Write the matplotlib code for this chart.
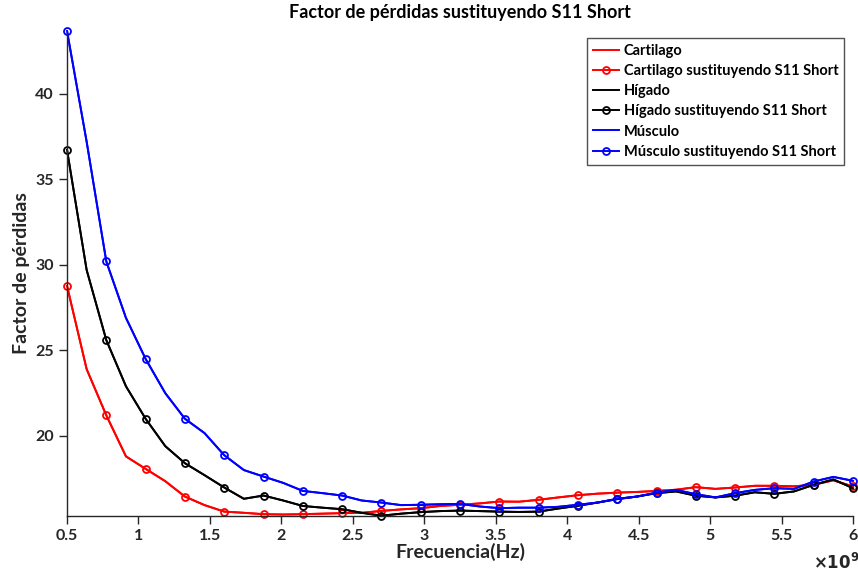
import matplotlib
matplotlib.use("Agg")
import matplotlib.pyplot as plt
from matplotlib.ticker import FuncFormatter

plt.rcParams["font.family"] = ["Lato", "DejaVu Sans"]
plt.rcParams["font.weight"] = "bold"

# frequency sweep (GHz), markers sit on every second point
freq_ghz = [0.5, 0.6375, 0.775, 0.9125, 1.05, 1.1875, 1.325, 1.4625, 1.6, 1.7375,
            1.875, 2.0125, 2.15, 2.2875, 2.425, 2.5625, 2.7, 2.8375, 2.975, 3.1125,
            3.25, 3.3875, 3.525, 3.6625, 3.8, 3.9375, 4.075, 4.2125, 4.35, 4.4875,
            4.625, 4.7625, 4.9, 5.0375, 5.175, 5.3125, 5.45, 5.5875, 5.725, 5.8625, 6.0]

cartilago = [28.77, 23.9, 21.2, 18.8, 18.07, 17.35, 16.45, 15.95, 15.57, 15.5,
             15.42, 15.4, 15.42, 15.45, 15.48, 15.5, 15.61, 15.7, 15.77, 15.9,
             15.97, 16.05, 16.16, 16.15, 16.26, 16.4, 16.53, 16.62, 16.68, 16.72,
             16.78, 16.85, 17.0, 16.9, 16.98, 17.08, 17.08, 17.05, 17.14, 17.4, 17.04]

higado = [36.73, 29.7, 25.6, 22.9, 21.0, 19.4, 18.4, 17.7, 16.98, 16.32,
          16.51, 16.22, 15.9, 15.8, 15.71, 15.5, 15.33, 15.45, 15.54, 15.6,
          15.63, 15.6, 15.57, 15.55, 15.57, 15.75, 15.91, 16.1, 16.3, 16.45,
          16.65, 16.75, 16.5, 16.4, 16.5, 16.7, 16.61, 16.75, 17.14, 17.45, 16.94]

musculo = [43.68, 37.2, 30.2, 26.9, 24.5, 22.5, 21.0, 20.16, 18.87, 18.0,
           17.62, 17.25, 16.78, 16.65, 16.51, 16.22, 16.1, 15.95, 15.97, 16.0,
           16.02, 15.87, 15.77, 15.8, 15.8, 15.85, 15.97, 16.1, 16.32, 16.45,
           16.68, 16.84, 16.59, 16.4, 16.65, 16.84, 16.94, 16.9, 17.33, 17.6, 17.37]

x_ticks = [0.5, 1, 1.5, 2, 2.5, 3, 3.5, 4, 4.5, 5, 5.5, 6]
y_ticks = [20, 25, 30, 35, 40]

freq_hz = [f * 1e9 for f in freq_ghz]
series = [
    ("Cartilago", cartilago, "red"),
    ("Hígado", higado, "black"),
    ("Músculo", musculo, "blue"),
]

fig = plt.figure(figsize=(8.58, 5.79), dpi=100)
ax = fig.add_axes([0.0781, 0.1093, 0.9161, 0.8372])

for name, vals, col in series:
    ax.plot(freq_hz, vals, color=col, lw=1.4, label=name)
    ax.plot(freq_hz, vals, color=col, lw=1.4, marker="o", markevery=2,
            markersize=5, markerfacecolor="none", markeredgewidth=1.3,
            label=name + " sustituyendo S11 Short", clip_on=False)

all_vals = cartilago + higado + musculo
ax.set_xlim(freq_hz[0], freq_hz[-1])
ax.set_ylim(min(all_vals), max(all_vals))
ax.set_xticks([t * 1e9 for t in x_ticks])
ax.xaxis.set_major_formatter(FuncFormatter(lambda v, p: f"{v / 1e9:g}"))
ax.set_yticks(y_ticks)

for s in ["top", "right"]:
    ax.spines[s].set_visible(False)
for s in ["left", "bottom"]:
    ax.spines[s].set_color("#262626")
    ax.spines[s].set_linewidth(1.0)
ax.tick_params(direction="out", length=6, width=1.0, colors="#262626",
               labelsize=11.5, labelcolor="#262626")
for lab in ax.get_xticklabels() + ax.get_yticklabels():
    lab.set_fontweight("bold")

ax.set_title("Factor de pérdidas sustituyendo S11 Short", fontsize=13,
             fontweight="bold", pad=9)
ax.set_xlabel("Frecuencia(Hz)", fontsize=14, fontweight="bold", color="#262626",
              labelpad=0)
ax.set_ylabel("Factor de pérdidas", fontsize=14, fontweight="bold", color="#262626")
fig.text(0.947, 0.018, r"$\times\mathbf{10^{9}}$", fontsize=12, color="#262626")

leg = ax.legend(loc="upper right", bbox_to_anchor=(0.998, 1.0), fontsize=10.5,
                frameon=True, fancybox=False, handlelength=1.8,
                labelspacing=0.42, borderpad=0.4, handletextpad=0.3)
leg.get_frame().set_edgecolor("#262626")
leg.get_frame().set_linewidth(1.0)
for t in leg.get_texts():
    t.set_fontweight("bold")

fig.savefig("out.png", dpi=100)
